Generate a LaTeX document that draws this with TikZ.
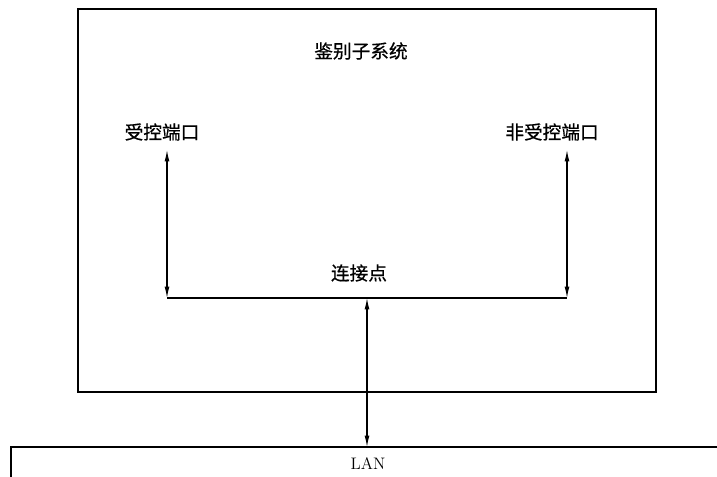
\documentclass[tikz,border=0pt]{standalone}
\usepackage{fontspec}
\newfontfamily\cjk{Noto Sans CJK SC}[BoldFont={Noto Sans CJK SC},BoldFeatures={FakeBold=0.6}]
\usepackage{tikz}
\usetikzlibrary{arrows.meta,positioning,calc}

\begin{document}
\begin{tikzpicture}[x=0.75pt,y=-0.75pt,
    frame/.style={line width=1.6pt},
    link/.style={line width=0.8pt,{Latex[length=8.5pt,width=3.6pt]}-{Latex[length=8.5pt,width=3.6pt]}},
    lbl/.style={font=\cjk\bfseries\fontsize{14}{16}\selectfont,inner sep=0pt}]
  \useasboundingbox (0,0) rectangle (717,477);
  % --- subsystem box ---
  \draw[frame] (78,9) rectangle (656,392);
  \node[lbl] (title) at (361,51) {鉴别子系统};
  \node[lbl] (ctrl) at (162,132) {受控端口};
  \node[lbl] (unctrl) at (552,132) {非受控端口};
  \node[lbl] (conn) at (359,273) {连接点};
  % --- ports and connection point ---
  \coordinate (ctrltop) at (167,150);
  \coordinate (ctrlbot) at (167,298);
  \coordinate (unctrltop) at (567,150);
  \coordinate (unctrlbot) at (567,298);
  \coordinate (cp) at (367,298);
  \draw[line width=0.8pt] (ctrlbot) -- (unctrlbot);
  \draw[link] (ctrltop) -- (ctrlbot);
  \draw[link] (unctrltop) -- (unctrlbot);
  % --- LAN ---
  \draw[frame] (718,447) -- (11,447) -- (11,478);
  \node[font=\fontsize{12.5}{14}\selectfont,inner sep=0pt] (lan) at (368,464) {LAN};
  \coordinate (lantop) at (367,447);
  \draw[link] (cp) -- (lantop);
\end{tikzpicture}
\end{document}
